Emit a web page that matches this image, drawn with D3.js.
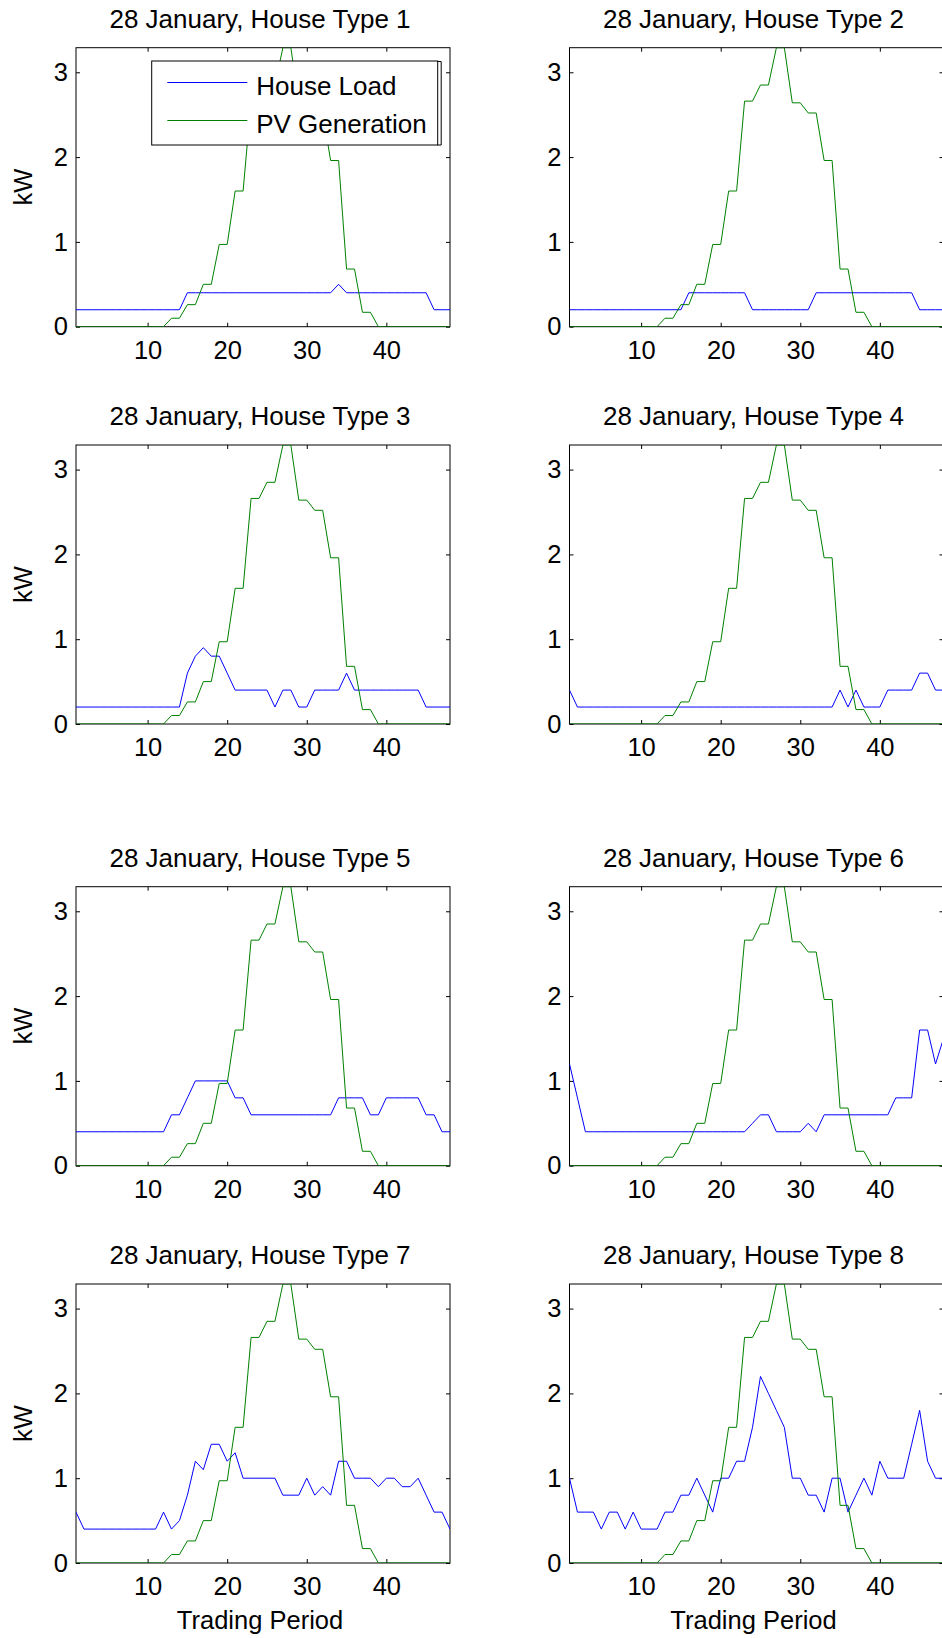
<!DOCTYPE html>
<html>
<head>
<meta charset="utf-8">
<script src="https://cdn.jsdelivr.net/npm/d3@7.9.0/dist/d3.min.js"></script>
<style>
  html, body { margin: 0; padding: 0; background: #fff; overflow: hidden; }
  svg { display: block; }
</style>
</head>
<body>
<script>
// trading periods (half hours of the day)
const periods = [1, 2, 3, 4, 5, 6, 7, 8, 9, 10, 11, 12, 13, 14, 15, 16, 17, 18, 19, 20, 21, 22, 23, 24,
  25, 26, 27, 28, 29, 30, 31, 32, 33, 34, 35, 36, 37, 38, 39, 40, 41, 42, 43, 44, 45, 46, 47, 48];

const titles = [
  '28 January, House Type 1', '28 January, House Type 2',
  '28 January, House Type 3', '28 January, House Type 4',
  '28 January, House Type 5', '28 January, House Type 6',
  '28 January, House Type 7', '28 January, House Type 8'
];

const seriesNames = ['House Load', 'PV Generation'];
const xTicks = [10, 20, 30, 40];
const yTicks = [0, 1, 2, 3];
const xLabel = 'Trading Period';
const yLabel = 'kW';

// PV generation is the same for every house type
const pvGeneration = [0, 0, 0, 0, 0, 0, 0, 0, 0, 0, 0, 0,
  0.1, 0.1, 0.26, 0.26, 0.5, 0.5, 0.97, 0.97, 1.6, 1.6, 2.66, 2.66,
  2.85, 2.85, 3.29, 3.29, 2.64, 2.64, 2.52, 2.52, 1.96, 1.96, 0.68, 0.68,
  0.17, 0.17, 0, 0, 0, 0, 0, 0, 0, 0, 0, 0];

const load1 = [0.2, 0.2, 0.2, 0.2, 0.2, 0.2, 0.2, 0.2, 0.2, 0.2, 0.2, 0.2, 0.2, 0.2,
  0.4, 0.4, 0.4, 0.4, 0.4, 0.4, 0.4, 0.4, 0.4, 0.4, 0.4, 0.4, 0.4, 0.4, 0.4, 0.4, 0.4, 0.4, 0.4,
  0.5, 0.4, 0.4, 0.4, 0.4, 0.4, 0.4, 0.4, 0.4, 0.4, 0.4, 0.4, 0.2, 0.2, 0.2];
const load2 = [0.2, 0.2, 0.2, 0.2, 0.2, 0.2, 0.2, 0.2, 0.2, 0.2, 0.2, 0.2, 0.2, 0.2, 0.2,
  0.4, 0.4, 0.4, 0.4, 0.4, 0.4, 0.4, 0.4, 0.2, 0.2, 0.2, 0.2, 0.2, 0.2, 0.2, 0.2,
  0.4, 0.4, 0.4, 0.4, 0.4, 0.4, 0.4, 0.4, 0.4, 0.4, 0.4, 0.4, 0.4, 0.2, 0.2, 0.2, 0.2];
const load3 = [0.2, 0.2, 0.2, 0.2, 0.2, 0.2, 0.2, 0.2, 0.2, 0.2, 0.2, 0.2, 0.2, 0.2,
  0.6, 0.8, 0.9, 0.8, 0.8, 0.6, 0.4, 0.4, 0.4, 0.4, 0.4, 0.2, 0.4, 0.4, 0.2, 0.2,
  0.4, 0.4, 0.4, 0.4, 0.6, 0.4, 0.4, 0.4, 0.4, 0.4, 0.4, 0.4, 0.4, 0.4, 0.2, 0.2, 0.2, 0.2];
const load4 = [0.4, 0.2, 0.2, 0.2, 0.2, 0.2, 0.2, 0.2, 0.2, 0.2, 0.2, 0.2, 0.2, 0.2, 0.2, 0.2, 0.2,
  0.2, 0.2, 0.2, 0.2, 0.2, 0.2, 0.2, 0.2, 0.2, 0.2, 0.2, 0.2, 0.2, 0.2, 0.2, 0.2, 0.2,
  0.4, 0.2, 0.4, 0.2, 0.2, 0.2, 0.4, 0.4, 0.4, 0.4, 0.6, 0.6, 0.4, 0.4];
const load5 = [0.4, 0.4, 0.4, 0.4, 0.4, 0.4, 0.4, 0.4, 0.4, 0.4, 0.4, 0.4,
  0.6, 0.6, 0.8, 1.0, 1.0, 1.0, 1.0, 1.0, 0.8, 0.8, 0.6, 0.6, 0.6, 0.6, 0.6, 0.6, 0.6, 0.6,
  0.6, 0.6, 0.6, 0.8, 0.8, 0.8, 0.8, 0.6, 0.6, 0.8, 0.8, 0.8, 0.8, 0.8, 0.6, 0.6, 0.4, 0.4];
const load6 = [1.2, 0.8, 0.4, 0.4, 0.4, 0.4, 0.4, 0.4, 0.4, 0.4, 0.4, 0.4, 0.4, 0.4, 0.4, 0.4,
  0.4, 0.4, 0.4, 0.4, 0.4, 0.4, 0.4, 0.5, 0.6, 0.6, 0.4, 0.4, 0.4, 0.4, 0.5, 0.4,
  0.6, 0.6, 0.6, 0.6, 0.6, 0.6, 0.6, 0.6, 0.6, 0.8, 0.8, 0.8, 1.6, 1.6, 1.2, 1.5];
const load7 = [0.6, 0.4, 0.4, 0.4, 0.4, 0.4, 0.4, 0.4, 0.4, 0.4, 0.4,
  0.6, 0.4, 0.5, 0.8, 1.2, 1.1, 1.4, 1.4, 1.2, 1.3, 1.0, 1.0, 1.0, 1.0, 1.0,
  0.8, 0.8, 0.8, 1.0, 0.8, 0.9, 0.8, 1.2, 1.2, 1.0, 1.0, 1.0,
  0.9, 1.0, 1.0, 0.9, 0.9, 1.0, 0.8, 0.6, 0.6, 0.4];
const load8 = [1.0, 0.6, 0.6, 0.6, 0.4, 0.6, 0.6, 0.4, 0.6, 0.4,
  0.4, 0.4, 0.6, 0.6, 0.8, 0.8, 1.0, 0.8, 0.6, 1.0,
  1.0, 1.2, 1.2, 1.6, 2.2, 2.0, 1.8, 1.6, 1.0, 1.0,
  0.8, 0.8, 0.6, 1.0, 1.0, 0.6, 0.8, 1.0, 0.8, 1.2,
  1.0, 1.0, 1.0, 1.4, 1.8, 1.2, 1.0, 1.0];

const houseLoads = [load1, load2, load3, load4, load5, load6, load7, load8];

// layout
const width = 942;
const height = 1638;
const colLeft = [76, 569.5];
const rowTop = [47.7, 445, 886.7, 1284];
const plotW = 374;
const plotH = 279;
const fontFamily = '"Liberation Sans", Arial, Helvetica, sans-serif';
const fontSize = 25.5;
const titleSize = 26;
const loadColor = '#0000ff';
const pvColor = '#008000';

let svg = d3.select('body')
  .append('svg')
  .attr('width', width)
  .attr('height', height)
  .attr('font-family', fontFamily);

svg.append('defs');

function styleAxis(g) {
  g.attr('font-size', fontSize).attr('font-family', fontFamily);
  g.select('.domain').remove();
  g.selectAll('.tick line').attr('stroke', '#000').attr('stroke-width', 1);
  g.selectAll('.tick text').attr('fill', '#000');
}

function drawPanel(i) {
  let col = i % 2;
  let row = Math.floor(i / 2);
  let left = colLeft[col];
  let top = rowTop[row];

  let x = d3.scaleLinear().domain([periods[0], periods[periods.length - 1]]).range([0, plotW]);
  let y = d3.scaleLinear().domain([0, d3.max(pvGeneration)]).range([plotH, 0]);

  let g = svg.append('g').attr('transform', `translate(${left},${top})`);

  // clip for the data lines
  let clipId = `clip-${i}`;
  svg.select('defs').append('clipPath').attr('id', clipId)
    .append('rect').attr('x', 0).attr('y', 0).attr('width', plotW).attr('height', plotH);

  // title
  g.append('text')
    .attr('x', plotW / 2 - 3)
    .attr('y', -20)
    .attr('text-anchor', 'middle')
    .attr('font-size', titleSize)
    .text(titles[i]);

  // axes box (drawn below the data, like MATLAB)
  g.append('rect')
    .attr('x', 0).attr('y', 0)
    .attr('width', plotW).attr('height', plotH)
    .attr('fill', 'none')
    .attr('stroke', '#000')
    .attr('stroke-width', 1);

  g.append('g')
    .attr('transform', `translate(0,${plotH})`)
    .call(d3.axisBottom(x).tickValues(xTicks).tickSizeInner(-4).tickSizeOuter(0).tickPadding(14))
    .call(styleAxis);

  g.append('g')
    .call(d3.axisTop(x).tickValues(xTicks).tickSizeInner(-4).tickSizeOuter(0).tickFormat(''))
    .call(styleAxis);

  g.append('g')
    .call(d3.axisLeft(y).tickValues(yTicks).tickSizeInner(-4).tickSizeOuter(0).tickPadding(8)
      .tickFormat(d3.format('d')))
    .call(styleAxis);

  g.append('g')
    .attr('transform', `translate(${plotW},0)`)
    .call(d3.axisRight(y).tickValues(yTicks).tickSizeInner(-4).tickSizeOuter(0).tickFormat(''))
    .call(styleAxis);

  // data
  let line = d3.line()
    .x((d, k) => x(periods[k]))
    .y((d) => y(d));

  let lines = g.append('g').attr('clip-path', `url(#${clipId})`);

  lines.append('path')
    .attr('d', line(houseLoads[i]))
    .attr('fill', 'none')
    .attr('stroke', loadColor)
    .attr('stroke-width', 1);

  lines.append('path')
    .attr('d', line(pvGeneration))
    .attr('fill', 'none')
    .attr('stroke', pvColor)
    .attr('stroke-width', 1);

  // y label on the left column only
  if (col === 0) {
    g.append('text')
      .attr('transform', `translate(-44,${plotH / 2}) rotate(-90)`)
      .attr('text-anchor', 'middle')
      .attr('font-size', fontSize)
      .text(yLabel);
  }

  // x label on the bottom row only
  if (row === rowTop.length - 1) {
    g.append('text')
      .attr('x', plotW / 2 - 3)
      .attr('y', plotH + 66)
      .attr('text-anchor', 'middle')
      .attr('font-size', fontSize)
      .text(xLabel);
  }

  // legend sits in the first panel
  if (i === 0) {
    let lg = g.append('g').attr('transform', 'translate(75.7,13.3)');
    lg.append('rect')
      .attr('width', 286).attr('height', 84)
      .attr('fill', '#fff')
      .attr('stroke', '#000')
      .attr('stroke-width', 1);
    // the little bracket MATLAB leaves at the legend's right side
    lg.append('path')
      .attr('d', 'M286,0.5H289.5V84H286')
      .attr('fill', 'none')
      .attr('stroke', '#000')
      .attr('stroke-width', 1);
    let colors = [loadColor, pvColor];
    seriesNames.forEach((name, k) => {
      let ly = 21.5 + k * 38;
      lg.append('line')
        .attr('x1', 15.6).attr('x2', 95.6)
        .attr('y1', ly).attr('y2', ly)
        .attr('stroke', colors[k])
        .attr('stroke-width', 1);
      lg.append('text')
        .attr('x', 104.5)
        .attr('y', ly + 12.5)
        .attr('font-size', fontSize + 0.5)
        .text(name);
    });
  }
}

titles.forEach((t, i) => drawPanel(i));
</script>
</body>
</html>
